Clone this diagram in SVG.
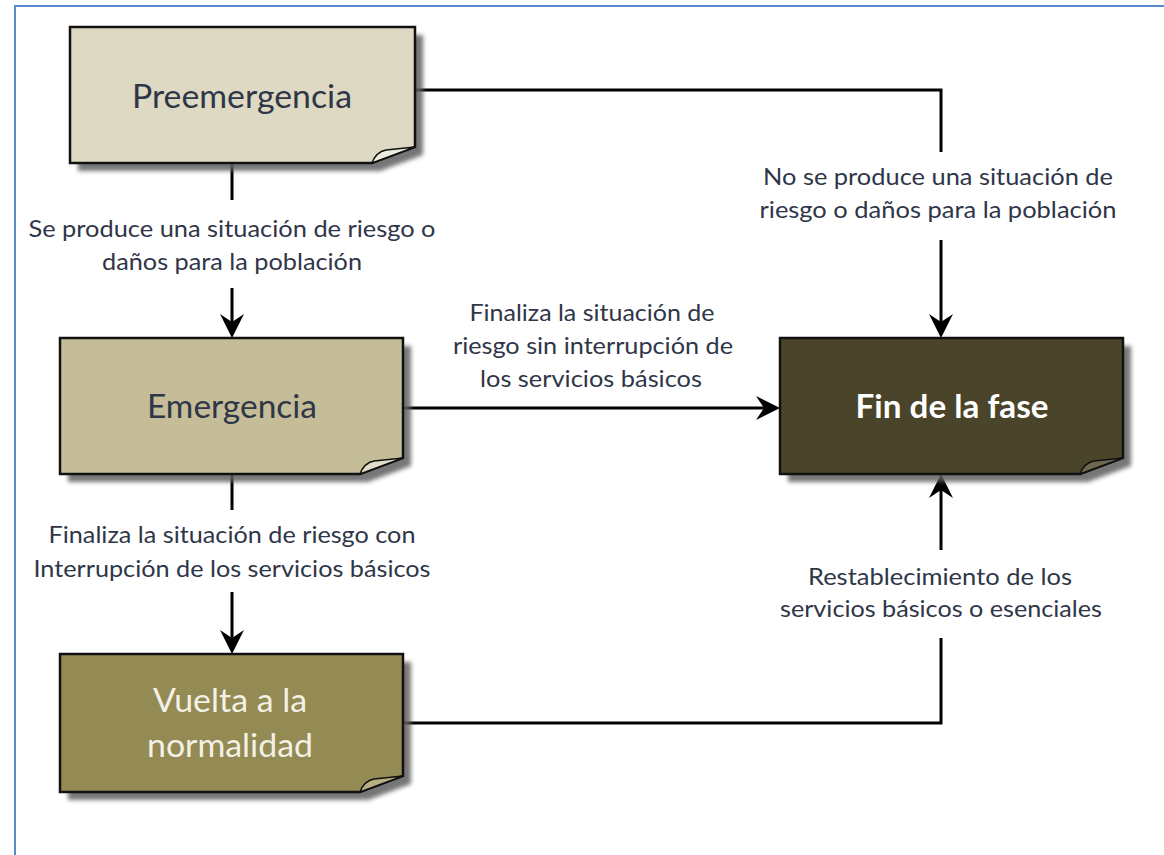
<svg xmlns="http://www.w3.org/2000/svg" width="1164" height="855" viewBox="0 0 1164 855">
<defs>
<style>
.frame{fill:none;stroke:#5a8acb;stroke-width:2}
.box{stroke:#111;stroke-width:2.5;stroke-linejoin:miter}
.curl{stroke:#111;stroke-width:1.5;stroke-linejoin:round}
.shadow{fill:#5e5e5e;opacity:.85}
.conn{fill:none;stroke:#000;stroke-width:3}
.lbl{font-family:Lato,"Open Sans","Liberation Sans",sans-serif;font-size:24px;fill:#2f3648;text-anchor:middle}
.nt{font-family:Lato,"Open Sans","Liberation Sans",sans-serif;font-size:32px;text-anchor:middle}
</style>
<filter id="blur" x="-10%" y="-10%" width="130%" height="130%"><feGaussianBlur stdDeviation="2"/></filter>
<marker id="arr" markerUnits="userSpaceOnUse" viewBox="0 0 26 26" refX="18" refY="13" markerWidth="26" markerHeight="26" orient="auto">
<path d="M24,13 L0,1 L8,13 L0,25 Z" fill="#000"/>
</marker>
</defs>
<rect width="1164" height="855" fill="#fff"/>
<path class="frame" d="M15,855 V6 H1164"/>

<g id="connectors">
<path class="conn" d="M232,163 V200"/>
<path class="conn" d="M232,288 V332" marker-end="url(#arr)"/>
<path class="conn" d="M415,90 H941 V152"/>
<path class="conn" d="M941,240 V332" marker-end="url(#arr)"/>
<path class="conn" d="M403,408 H774" marker-end="url(#arr)"/>
<path class="conn" d="M232,474 V510"/>
<path class="conn" d="M232,592 V648" marker-end="url(#arr)"/>
<path class="conn" d="M403,723 H941 V638"/>
<path class="conn" d="M941,550 V480" marker-end="url(#arr)"/>
</g>

<g id="labels">
<text class="lbl" x="232" y="237" textLength="407" lengthAdjust="spacingAndGlyphs">Se produce una situación de riesgo o</text>
<text class="lbl" x="232" y="270" textLength="260" lengthAdjust="spacingAndGlyphs">daños para la población</text>
<text class="lbl" x="938" y="185" textLength="350" lengthAdjust="spacingAndGlyphs">No se produce una situación de</text>
<text class="lbl" x="938" y="218" textLength="357" lengthAdjust="spacingAndGlyphs">riesgo o daños para la población</text>
<text class="lbl" x="592" y="321" textLength="245" lengthAdjust="spacingAndGlyphs">Finaliza la situación de</text>
<text class="lbl" x="593" y="354" textLength="280" lengthAdjust="spacingAndGlyphs">riesgo sin interrupción de</text>
<text class="lbl" x="591" y="387" textLength="222" lengthAdjust="spacingAndGlyphs">los servicios básicos</text>
<text class="lbl" x="232" y="543" textLength="367" lengthAdjust="spacingAndGlyphs">Finaliza la situación de riesgo con</text>
<text class="lbl" x="232" y="577" textLength="397" lengthAdjust="spacingAndGlyphs">Interrupción de los servicios básicos</text>
<text class="lbl" x="940" y="585" textLength="264" lengthAdjust="spacingAndGlyphs">Restablecimiento de los</text>
<text class="lbl" x="941" y="617" textLength="322" lengthAdjust="spacingAndGlyphs">servicios básicos o esenciales</text>
</g>

<g id="node-preemergencia">
<path class="shadow" filter="url(#blur)" d="M78,35 H423 V155 L380,171 H78 Z"/>
<path class="box" fill="#ddd9c3" d="M70,27 H415 V147 L372,163 H70 Z"/>
<path class="curl" fill="#eeecdf" d="M372,163 Q376,152 386,150 L415,147 Z"/>
<text class="nt" x="242" y="108" fill="#2f3648" textLength="220" lengthAdjust="spacingAndGlyphs">Preemergencia</text>
</g>

<g id="node-emergencia">
<path class="shadow" filter="url(#blur)" d="M68,346 H411 V466 L368,482 H68 Z"/>
<path class="box" fill="#c4bd97" d="M60,338 H403 V458 L360,474 H60 Z"/>
<path class="curl" fill="#e2ddc8" d="M360,474 Q364,463 374,461 L403,458 Z"/>
<text class="nt" x="232" y="418" fill="#2f3648" textLength="170" lengthAdjust="spacingAndGlyphs">Emergencia</text>
</g>

<g id="node-fin">
<path class="shadow" filter="url(#blur)" d="M788,346 H1131 V466 L1088,482 H788 Z"/>
<path class="box" fill="#4a442a" d="M780,338 H1123 V458 L1080,474 H780 Z"/>
<path class="curl" fill="#6e6850" d="M1080,474 Q1084,463 1094,461 L1123,458 Z"/>
<text class="nt" x="952" y="418" fill="#ffffff" font-weight="bold" textLength="193" lengthAdjust="spacingAndGlyphs">Fin de la fase</text>
</g>

<g id="node-vuelta">
<path class="shadow" filter="url(#blur)" d="M68,662 H411 V784 L368,800 H68 Z"/>
<path class="box" fill="#948a54" d="M60,654 H403 V776 L360,792 H60 Z"/>
<path class="curl" fill="#b7af84" d="M360,792 Q364,781 374,779 L403,776 Z"/>
<text class="nt" x="230" y="712" fill="#f3f1e6" textLength="154" lengthAdjust="spacingAndGlyphs">Vuelta a la</text>
<text class="nt" x="230" y="757" fill="#f3f1e6" textLength="166" lengthAdjust="spacingAndGlyphs">normalidad</text>
</g>
</svg>
